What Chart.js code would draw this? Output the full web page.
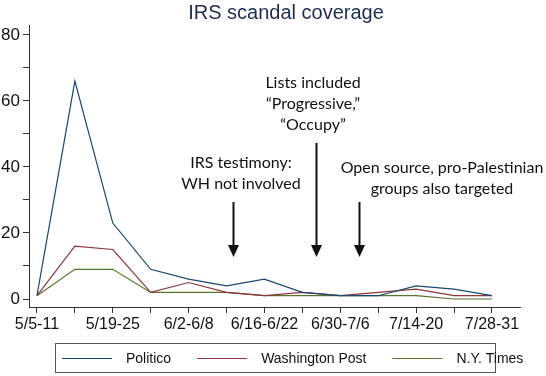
<!DOCTYPE html>
<html>
<head>
<meta charset="utf-8">
<script src="https://cdn.jsdelivr.net/npm/chart.js@4.4.0/dist/chart.umd.min.js"></script>
<style>
  html, body { margin: 0; padding: 0; background: #fff; }
  #wrap { width: 546px; height: 376px; }
</style>
</head>
<body>
<div id="wrap"><canvas id="irsChart" width="546" height="376"></canvas></div>
<script>
// weekly buckets, May-July 2013
const weekLabels = ["5/5-11", "5/12-18", "5/19-25", "5/26-6/1", "6/2-6/8", "6/9-15",
    "6/16-6/22", "6/23-29", "6/30-7/6", "7/7-13", "7/14-20", "7/21-27", "7/28-31"];
const seriesNames = ["Politico", "Washington Post", "N.Y. Times"];
const politico = [1, 66, 23, 9, 6, 4, 6, 2, 1, 1, 4, 3, 1];
const washPost = [1, 16, 15, 2, 5, 2, 1, 2, 1, 2, 3, 1, 1];
const nyTimes  = [1, 9, 9, 2, 2, 2, 1, 1, 1, 1, 1, 0, 0];
const yTickValues = [0, 10, 20, 30, 40, 50, 60, 70, 80];

const colors = ["#1a476f", "#90353b", "#55752f"];

// notes with arrows (x in week index, y in article counts)
const notes = [
    { lines: ["IRS testimony:", "WH not involved"], tx: 241, ty: 163, ax: 5.17, from: 29.4, to: 12.7 },
    { lines: ["Lists included", "\u201cProgressive,\u201d", "\u201cOccupy\u201d"], tx: 313, ty: 83, ax: 7.36, from: 47.3, to: 12.7 },
    { lines: ["Open source, pro-Palestinian", "groups also targeted"], tx: 442, ty: 168, ax: 8.5, from: 29.4, to: 12.7 }
];

function toPoints(arr) {
    return arr.map((v, i) => ({ x: i, y: v }));
}

const decorPlugin = {
    id: 'decor',
    afterDraw(chart) {
        const ctx = chart.ctx;
        const xs = chart.scales.x, ys = chart.scales.y;
        ctx.save();

        // title
        ctx.fillStyle = "#1c2b4f";
        ctx.font = "20px 'Liberation Sans', Arial, sans-serif";
        ctx.textAlign = "center";
        ctx.textBaseline = "middle";
        ctx.fillText("IRS scandal coverage", 286, 13);

        // annotations
        ctx.fillStyle = "#111";
        ctx.strokeStyle = "#111";
        ctx.font = "16px Lato, 'Open Sans', sans-serif";
        notes.forEach(n => {
            n.lines.forEach((t, k) => ctx.fillText(t, n.tx, n.ty + k * 21));
            let px = Math.round(xs.getPixelForValue(n.ax)) + 0.5;
            let y1 = ys.getPixelForValue(n.from);
            let y2 = ys.getPixelForValue(n.to);
            ctx.lineWidth = 2;
            ctx.beginPath();
            ctx.moveTo(px, y1);
            ctx.lineTo(px, y2 - 10);
            ctx.stroke();
            ctx.beginPath();
            ctx.moveTo(px - 5.5, y2 - 12);
            ctx.lineTo(px + 5.5, y2 - 12);
            ctx.lineTo(px, y2);
            ctx.closePath();
            ctx.fill();
        });

        // legend box
        ctx.strokeStyle = "#555";
        ctx.lineWidth = 1;
        ctx.strokeRect(55.5, 343.5, 440, 29);
        ctx.font = "14px 'Liberation Sans', Arial, sans-serif";
        ctx.textAlign = "left";
        let lx = 62;
        const ly = 359;
        chart.data.datasets.forEach((ds, i) => {
            ctx.strokeStyle = ds.borderColor;
            ctx.lineWidth = 1.2;
            ctx.beginPath();
            ctx.moveTo(lx, ly - 0.5);
            ctx.lineTo(lx + 50, ly - 0.5);
            ctx.stroke();
            lx += 64;
            ctx.fillStyle = "#111";
            ctx.fillText(ds.label, lx, ly);
            lx += ctx.measureText(ds.label).width + 26;
        });
        ctx.restore();
    }
};

const ctx = document.getElementById('irsChart').getContext('2d');
const datasets = [politico, washPost, nyTimes].map((arr, i) => ({
    label: seriesNames[i],
    data: toPoints(arr),
    borderColor: colors[i],
    backgroundColor: colors[i],
    borderWidth: 1.2,
    pointRadius: 0,
    tension: 0,
    fill: false
}));

window.irsChart = new Chart(ctx, {
    type: 'line',
    data: { datasets: datasets },
    options: {
        responsive: false,
        animation: false,
        layout: { padding: { left: 0, right: 26, top: 25, bottom: 0 } },
        plugins: { legend: { display: false }, tooltip: { enabled: false }, title: { display: false } },
        scales: {
            x: {
                type: 'linear',
                min: -0.21,
                max: 12.74,
                afterFit: s => { s.height = 69; },
                afterBuildTicks: s => { s.ticks = weekLabels.map((_, i) => ({ value: i })); },
                border: { display: true, color: "#333", width: 1 },
                grid: { drawOnChartArea: false, drawTicks: true, tickLength: 6, color: "#333" },
                ticks: {
                    autoSkip: false,
                    maxRotation: 0,
                    padding: 2,
                    color: "#111",
                    font: { family: "'Liberation Sans', Arial, sans-serif", size: 16 },
                    callback: v => (v % 2 === 0 ? weekLabels[v] : '')
                }
            },
            y: {
                min: -2.42,
                max: 83,
                afterFit: s => { s.width = 29; },
                afterBuildTicks: s => { s.ticks = yTickValues.map(v => ({ value: v })); },
                border: { display: true, color: "#333", width: 1 },
                grid: { drawOnChartArea: false, drawTicks: true, tickLength: 6, color: "#333" },
                ticks: {
                    padding: 3,
                    color: "#111",
                    font: { family: "'Liberation Sans', Arial, sans-serif", size: 17 },
                    callback: v => (v % 20 === 0 ? v : '')
                }
            }
        }
    },
    plugins: [decorPlugin]
});
</script>
</body>
</html>
